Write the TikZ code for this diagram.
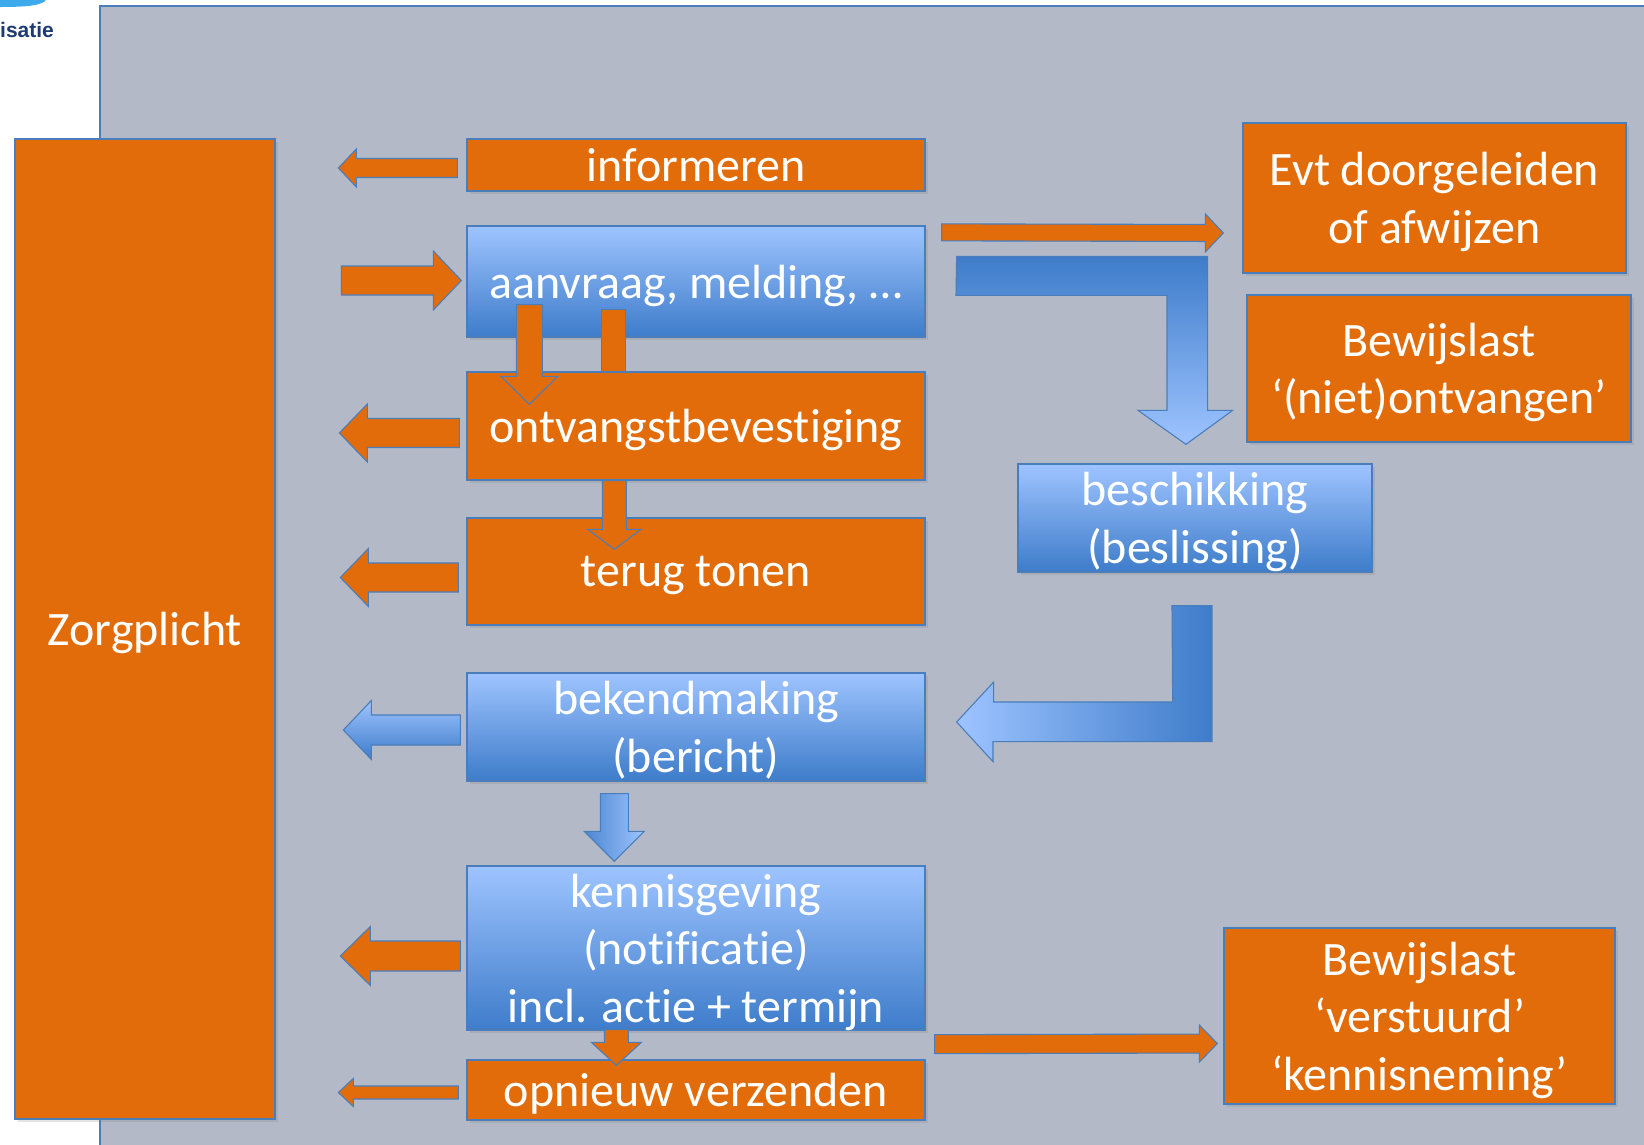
\documentclass[tikz,border=0pt]{standalone}
\usepackage{fontspec}
\setmainfont{Carlito}[Ligatures=NoCommon]
\newfontfamily\logofont{Liberation Sans}
\usetikzlibrary{calc,shadows}
\definecolor{orng}{RGB}{227,108,10}
\definecolor{bline}{RGB}{74,126,187}
\definecolor{blight}{RGB}{158,196,255}
\definecolor{bdark}{RGB}{62,124,202}
\definecolor{panel}{RGB}{179,185,199}
\definecolor{logoblue}{RGB}{60,170,235}
\definecolor{logotext}{RGB}{30,60,115}
% block arrow: #1 style, #2 tail centre, #3 tip, #4 shaft half width, #5 head half width, #6 head length
\newcommand\blockarr[6]{%
  \coordinate (ba-a) at #2;
  \coordinate (ba-b) at #3;
  \coordinate (ba-c) at ($(ba-b)!#6!(ba-a)$);
  \path[#1] ($(ba-a)!#4!90:(ba-b)$) -- ($(ba-c)!#4!90:(ba-b)$) -- ($(ba-c)!#5!90:(ba-b)$)
    -- (ba-b) -- ($(ba-c)!#5!-90:(ba-b)$) -- ($(ba-c)!#4!-90:(ba-b)$) -- ($(ba-a)!#4!-90:(ba-b)$) -- cycle;}
\begin{document}
\begin{tikzpicture}[x=1pt,y=-1pt,
  box/.style={draw=bline, line width=1.3pt, text=white, align=center, inner sep=0pt,
    text depth=0pt, font=\fontsize{48}{57.5}\selectfont,
    drop shadow={shadow xshift=3pt, shadow yshift=-3pt, opacity=0.22}},
  obox/.style={box, fill=orng},
  bbox/.style={box, top color=blight, bottom color=bdark},
  oarrow/.style={fill=orng, draw=bline, line width=1.1pt},
  barrow/.style={draw=bline, line width=1.1pt, top color=blight, bottom color=bdark}]
\useasboundingbox (0,0) rectangle (1644,1144);
\fill[white] (0,0) rectangle (1644,1144);
% logo fragment
\fill[logoblue] (0,0) -- (46,0) .. controls (42,5) and (30,7) .. (0,7) -- cycle;
\node[anchor=base west, inner sep=0pt, text=logotext, font=\logofont\bfseries\fontsize{21}{24}\selectfont] (logo) at (0,37) {isatie};
% panel
\fill[panel] (100,6) rectangle (1650,1150);
\draw[bline, line width=1.5pt] (100,1150) -- (100,6) -- (1650,6);
% boxes
\node[obox, minimum width=260pt, minimum height=980pt] (zorg) at (145,629) {Zorgplicht};
\node[obox, minimum width=458pt, minimum height=52pt] (inf) at (696,165) {informeren};
\node[bbox, minimum width=458pt, minimum height=111pt] (aan) at (696,281.5) {aanvraag, melding, …};
\node[obox, minimum width=458pt, minimum height=108pt] (ontv) at (696,426) {ontvangstbevestiging};
\node[obox, minimum width=458pt, minimum height=107pt] (terug) at (696,571.5) {terug tonen};
\node[bbox, minimum width=458pt, minimum height=108pt] (bek) at (696,727) {bekendmaking\\(bericht)};
\node[bbox, minimum width=458pt, minimum height=164pt] (ken) at (696,948) {kennisgeving\\(notificatie)\\incl. actie + termijn};
\node[obox, minimum width=458pt, minimum height=60pt] (opn) at (696,1090) {opnieuw verzenden};
\node[obox, minimum width=383pt, minimum height=150pt] (evt) at (1434.5,198) {Evt doorgeleiden\\of afwijzen};
\node[obox, minimum width=384pt, minimum height=147pt] (bew1) at (1439,368.5) {Bewijslast\\‘(niet)ontvangen’};
\node[bbox, minimum width=354pt, minimum height=108pt] (besch) at (1195,518) {beschikking\\(beslissing)};
\node[obox, minimum width=391pt, minimum height=176pt] (bew2) at (1419.5,1016) {Bewijslast\\‘verstuurd’\\‘kennisneming’};
% orange arrows
\blockarr{oarrow}{($(inf.west)+(-9,3)$)}{($(inf.west)+(-128,3)$)}{9.5pt}{19pt}{18pt}
\blockarr{oarrow}{($(aan.west)+(-125,-1)$)}{($(aan.west)+(-5,-1)$)}{14.5pt}{29.5pt}{28pt}
\path[oarrow] ($(aan.south west)+(135,-28)$) rectangle ($(ontv.north west)+(159,0)$);
\blockarr{oarrow}{($(aan.south west)+(63,-33)$)}{($(ontv.north west)+(63,33)$)}{13pt}{28.5pt}{28pt}
\blockarr{oarrow}{($(ontv.south west)+(148,0)$)}{($(terug.north west)+(148,32)$)}{12pt}{26.5pt}{20pt}
\blockarr{oarrow}{($(ontv.west)+(-7,7)$)}{($(ontv.west)+(-127,7)$)}{14.5pt}{29pt}{28pt}
\blockarr{oarrow}{($(terug.west)+(-8,6)$)}{($(terug.west)+(-126,6)$)}{14.5pt}{29pt}{28pt}
\blockarr{oarrow}{($(ken.west)+(-6,8)$)}{($(ken.west)+(-126,8)$)}{15pt}{29.5pt}{30pt}
\blockarr{oarrow}{($(ken.south west)+(150,-1)$)}{($(opn.north west)+(150,6)$)}{12pt}{25pt}{23pt}
\blockarr{oarrow}{($(opn.west)+(-8,2.5)$)}{($(opn.west)+(-128,2.5)$)}{6.5pt}{14pt}{15pt}
\blockarr{oarrow}{($(ken.south east)+(9,13.5)$)}{($(bew2.west)+(-6,27.5)$)}{9.5pt}{18.5pt}{18pt}
\blockarr{oarrow}{($(aan.north east)+(16,7)$)}{($(evt.west)+(-19,35)$)}{8.5pt}{19pt}{18pt}
% blue arrows
\blockarr{barrow}{($(bek.west)+(-6,3)$)}{($(bek.west)+(-123,3)$)}{15pt}{29.5pt}{28pt}
\blockarr{draw=bline, line width=1.1pt, left color=bdark!85!blight, right color=blight}{($(bek.south west)+(148,12)$)}{($(ken.north west)+(148,-4)$)}{14pt}{30pt}{30pt}
\coordinate (l1s) at ($(aan.north east)+(31,31)$);
\coordinate (l1t) at ($(besch.north)+(-9,-19)$);
\path[draw=bline, line width=1.1pt, top color=bdark, bottom color=blight]
  (l1s) -- ++(251,0) -- ++(0,154) -- ++(25,0) -- (l1t) -- ++(-48,-34) -- ++(29,0) -- ++(0,-115) -- ++(-211,0) -- cycle;
\coordinate (l2s) at ($(besch.south)+(-23,33)$);
\coordinate (l2t) at ($(bek.east)+(31,-5)$);
\path[draw=bline, line width=1.1pt, left color=blight, right color=bdark]
  (l2s) -- ++(40,0) -- ++(0,136) -- ++(-219,0) -- ++(0,20) -- (l2t) -- ++(37,-40) -- ++(0,20) -- ++(179,0) -- cycle;
\end{tikzpicture}
\end{document}
